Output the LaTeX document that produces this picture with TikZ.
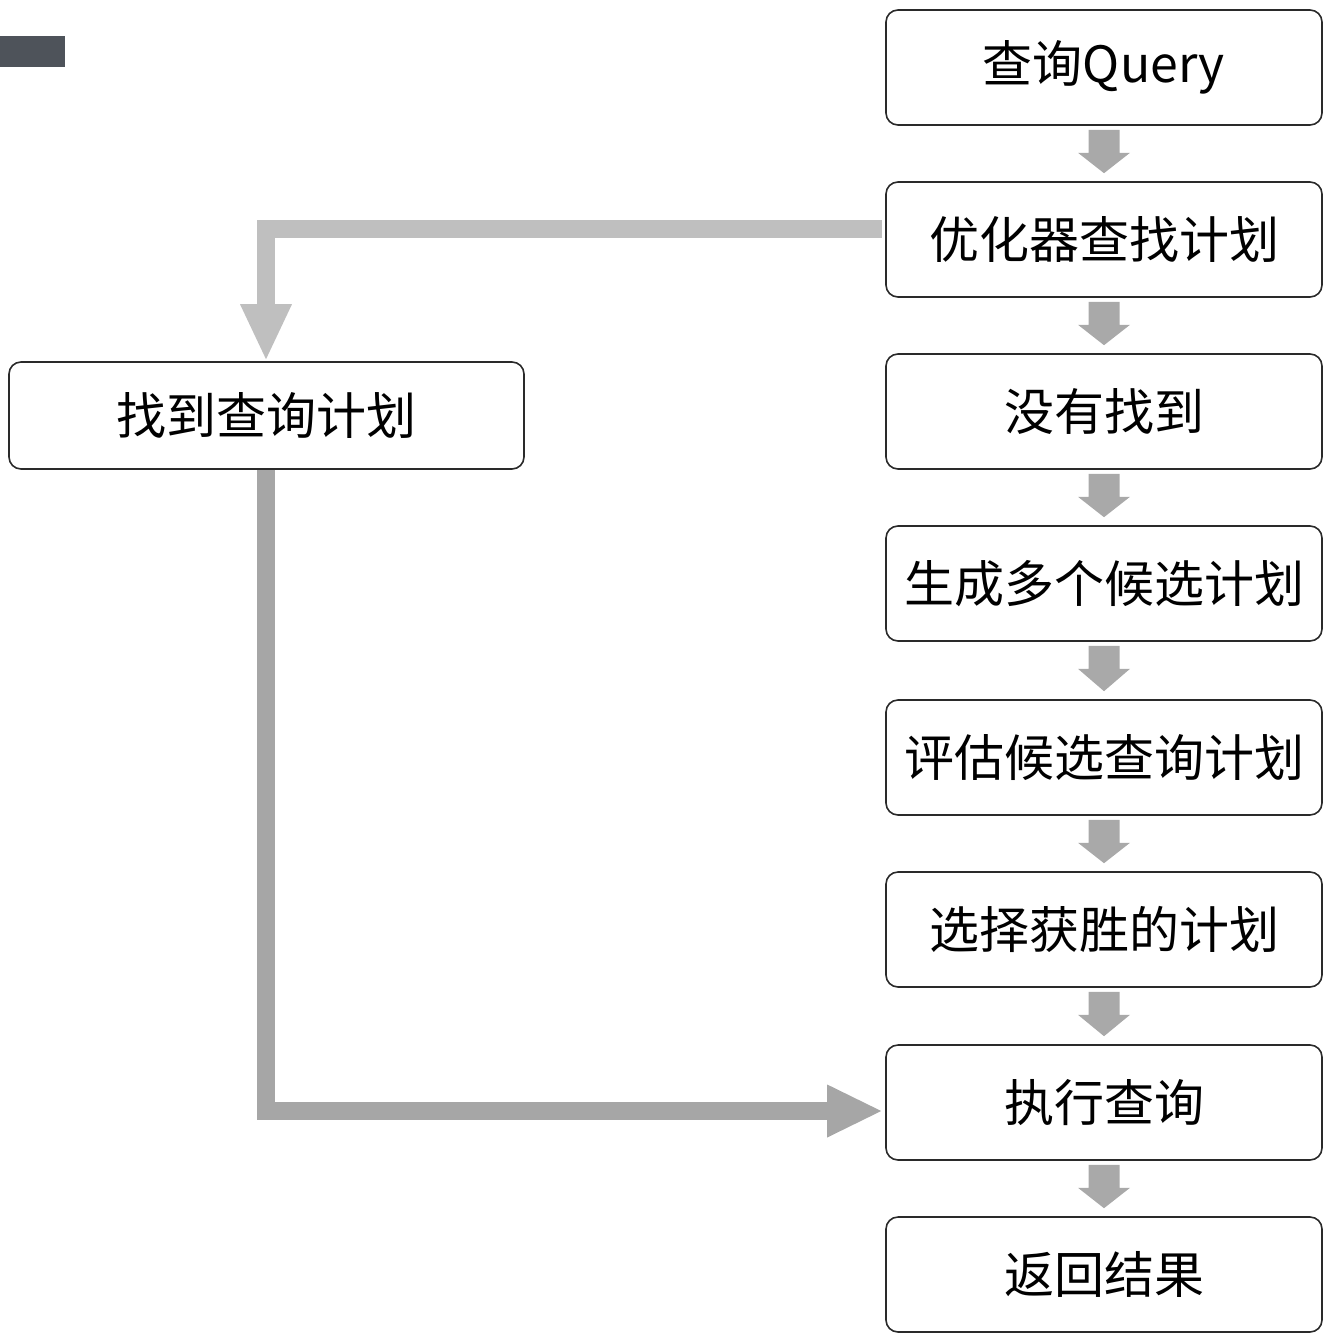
\documentclass[tikz,border=0pt]{standalone}
\usepackage{fontspec}
\setmainfont{Noto Sans CJK SC}
\usetikzlibrary{calc}
\definecolor{boxline}{HTML}{2A2A2A}
\definecolor{upgray}{HTML}{BFBFBF}
\definecolor{lowgray}{HTML}{A6A6A6}
\definecolor{arrgray}{HTML}{A9A9A9}
\definecolor{tabgray}{HTML}{4E535A}
\tikzset{
  stepbox/.style={draw=boxline, line width=1.6pt, rounded corners=12pt, fill=white,
    minimum width=436pt, minimum height=115pt, inner sep=0pt,
    font=\fontsize{50}{58}\selectfont},
  leftbox/.style={stepbox, minimum width=515pt, minimum height=107pt},
  bigline/.style={line width=18pt, line join=miter},
}
\newcommand{\smallarr}[2]{%
  \fill[arrgray] ($(#1.south)+(-15.5,4)$) -- ($(#1.south)+(15.5,4)$) -- ($(#1.south)+(15.5,27)$)
    -- ($(#1.south)+(26,27)$) -- ($(#2.north)+(0,-8)$) -- ($(#1.south)+(-26,27)$)
    -- ($(#1.south)+(-15.5,27)$) -- cycle;}
\begin{document}
\begin{tikzpicture}[x=1pt,y=-1pt]
\useasboundingbox (0,0) rectangle (1334,1338);
\fill[tabgray] (0,36) rectangle (65,67);
\node[stepbox] (b1) at (1104,67.5) {查询Query};
\node[stepbox] (b2) at (1104,239.5) {优化器查找计划};
\node[stepbox] (b3) at (1104,411.5) {没有找到};
\node[stepbox] (b4) at (1104,583.5) {生成多个候选计划};
\node[stepbox] (b5) at (1104,757.5) {评估候选查询计划};
\node[stepbox] (b6) at (1104,929.5) {选择获胜的计划};
\node[stepbox] (b7) at (1104,1102.5) {执行查询};
\node[stepbox] (b8) at (1104,1274.5) {返回结果};
\node[leftbox] (lf) at (266.5,415.5) {找到查询计划};
\smallarr{b1}{b2}
\smallarr{b2}{b3}
\smallarr{b3}{b4}
\smallarr{b4}{b5}
\smallarr{b5}{b6}
\smallarr{b6}{b7}
\smallarr{b7}{b8}
% upper connector
\coordinate (uS) at ($(b2.west)+(-3,-10.5)$);
\coordinate (uT) at ($(lf.north)+(-0.5,-2)$);
\draw[bigline, upgray] (uS) -- (uS -| uT) -- ($(uT)+(0,-54)$);
\fill[upgray] ($(uT)+(-26,-55)$) -- ($(uT)+(26,-55)$) -- (uT) -- cycle;
% lower connector
\coordinate (lS) at ($(lf.south)+(-0.5,0)$);
\coordinate (lT) at ($(b7.west)+(-4,8.5)$);
\draw[bigline, lowgray] (lS) -- (lS |- lT) -- ($(lT)+(-53,0)$);
\fill[lowgray] ($(lT)+(-54,-26.5)$) -- ($(lT)+(-54,26.5)$) -- (lT) -- cycle;
\end{tikzpicture}
\end{document}
